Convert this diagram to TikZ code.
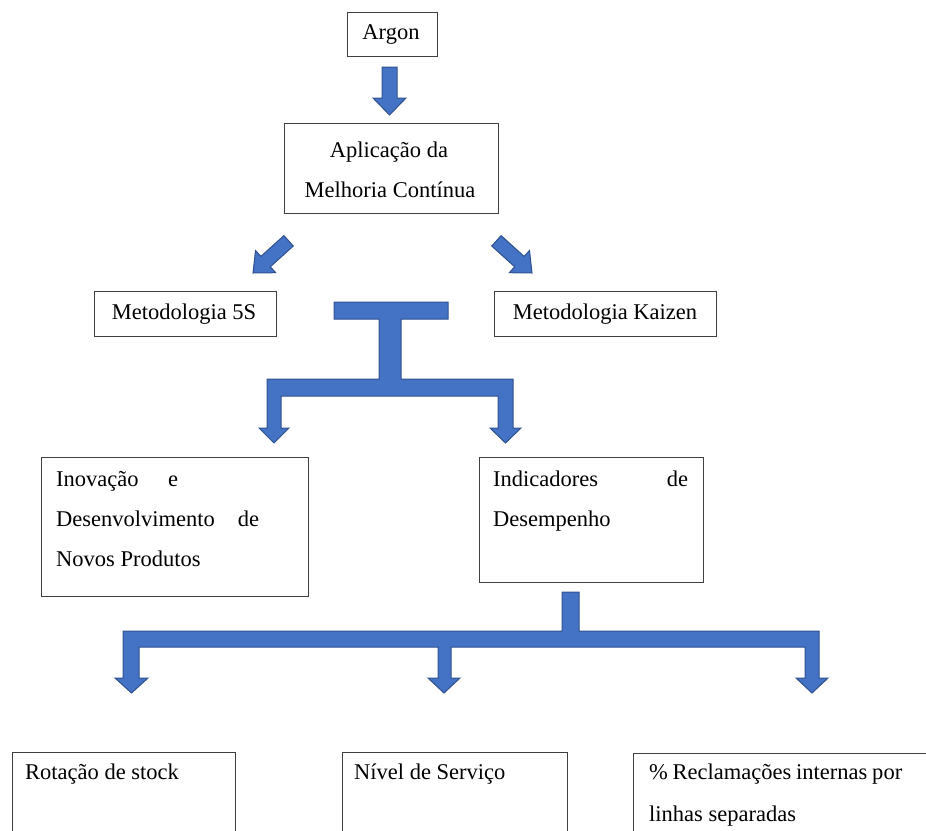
\documentclass[tikz,border=0pt]{standalone}
\usepackage{fontspec}
\setmainfont{Liberation Serif}
\definecolor{arrowblue}{HTML}{4472C4}
\definecolor{arrowedge}{HTML}{2F528F}
\begin{document}
\begin{tikzpicture}[x=1pt,y=-1pt,
  box/.style={draw=black!75, line width=1pt, inner sep=0pt, outer sep=0pt, anchor=north west},
  lbl/.style={inner sep=0pt, anchor=base, font=\fontsize{22.5}{26}\selectfont},
  lbll/.style={lbl, anchor=base west},
  barrow/.style={fill=arrowblue, draw=arrowedge, line width=1pt, line join=miter}]
\useasboundingbox (0,0) rectangle (926,830);
\clip (0,0) rectangle (926,830);

% boxes
\node[box, minimum width=90pt, minimum height=44pt] (argon) at (347,12) {};
\node[box, minimum width=214pt, minimum height=90pt] (aplic) at (284,123) {};
\node[box, minimum width=182pt, minimum height=45pt] (m5s) at (94,291) {};
\node[box, minimum width=222pt, minimum height=45pt] (kaizen) at (494,291) {};
\node[box, minimum width=267pt, minimum height=139pt] (inov) at (41,457) {};
\node[box, minimum width=224pt, minimum height=125pt] (indic) at (479,457) {};
\node[box, minimum width=223pt, minimum height=100pt] (rot) at (12,752) {};
\node[box, minimum width=225pt, minimum height=100pt] (niv) at (342,752) {};
\node[box, minimum width=300pt, minimum height=100pt] (recl) at (633,753) {};

% texts
\node[lbl] (targon) at (391,39.5) {Argon};
\node[lbl] (taplic1) at (389,157) {Aplicação da};
\node[lbl] (taplic2) at (390,197) {Melhoria Contínua};
\node[lbl] (tm5s) at (184,319) {Metodologia 5S};
\node[lbl] (tkaizen) at (605,319) {Metodologia Kaizen};
\node[lbll] (tinov1) at (56,486) {\makebox[122pt][s]{Inovação e}};
\node[lbll] (tinov2) at (56,526) {\makebox[203pt][s]{Desenvolvimento de}};
\node[lbll] (tinov3) at (56,566.5) {Novos Produtos};
\node[lbll] (tindic1) at (493,486.5) {\makebox[195pt][s]{Indicadores de}};
\node[lbll] (tindic2) at (493,526) {Desempenho};
\node[lbll] (trot) at (25,779) {Rotação de stock};
\node[lbll] (tniv) at (354,779) {Nível de Serviço};
\node[lbll] (trecl1) at (649,779) {\makebox[253pt][s]{\% Reclamações internas por}};
\node[lbll] (trecl2) at (649,821.5) {linhas separadas};

% block arrows
\draw[barrow] (382,67) -- (397,67) -- (397,98) -- (406,98) -- (389.5,115) -- (373,98) -- (382,98) -- cycle;
\draw[barrow] (293.3,246.0) -- (283.9,235.6) -- (260.9,256.4) -- (255.5,250.5) -- (253,273) -- (275.7,272.7) -- (270.3,266.8) -- cycle;
\draw[barrow] (491.7,246.0) -- (501.1,235.6) -- (524.1,256.4) -- (529.5,250.5) -- (532,273) -- (509.3,272.7) -- (514.7,266.8) -- cycle;
\draw[barrow] (334,302) -- (448,302) -- (448,319) -- (401,319) -- (401,379) -- (513,379) -- (513,428) -- (521,428) -- (505.5,443) -- (490,428) -- (498,428) -- (498,396) -- (281,396) -- (281,428) -- (289,428) -- (274,443) -- (259,428) -- (267,428) -- (267,379) -- (379,379) -- (379,319) -- (334,319) -- cycle;
\draw[barrow] (562,592) -- (579,592) -- (579,631) -- (819,631) -- (819,678) -- (828,678) -- (812,693) -- (796,678) -- (805,678) -- (805,647) -- (451,647) -- (451,678) -- (460,678) -- (444,693) -- (428,678) -- (438,678) -- (438,647) -- (139,647) -- (139,678) -- (148,678) -- (131.5,693) -- (115,678) -- (123,678) -- (123,631) -- (562,631) -- cycle;
\end{tikzpicture}
\end{document}
